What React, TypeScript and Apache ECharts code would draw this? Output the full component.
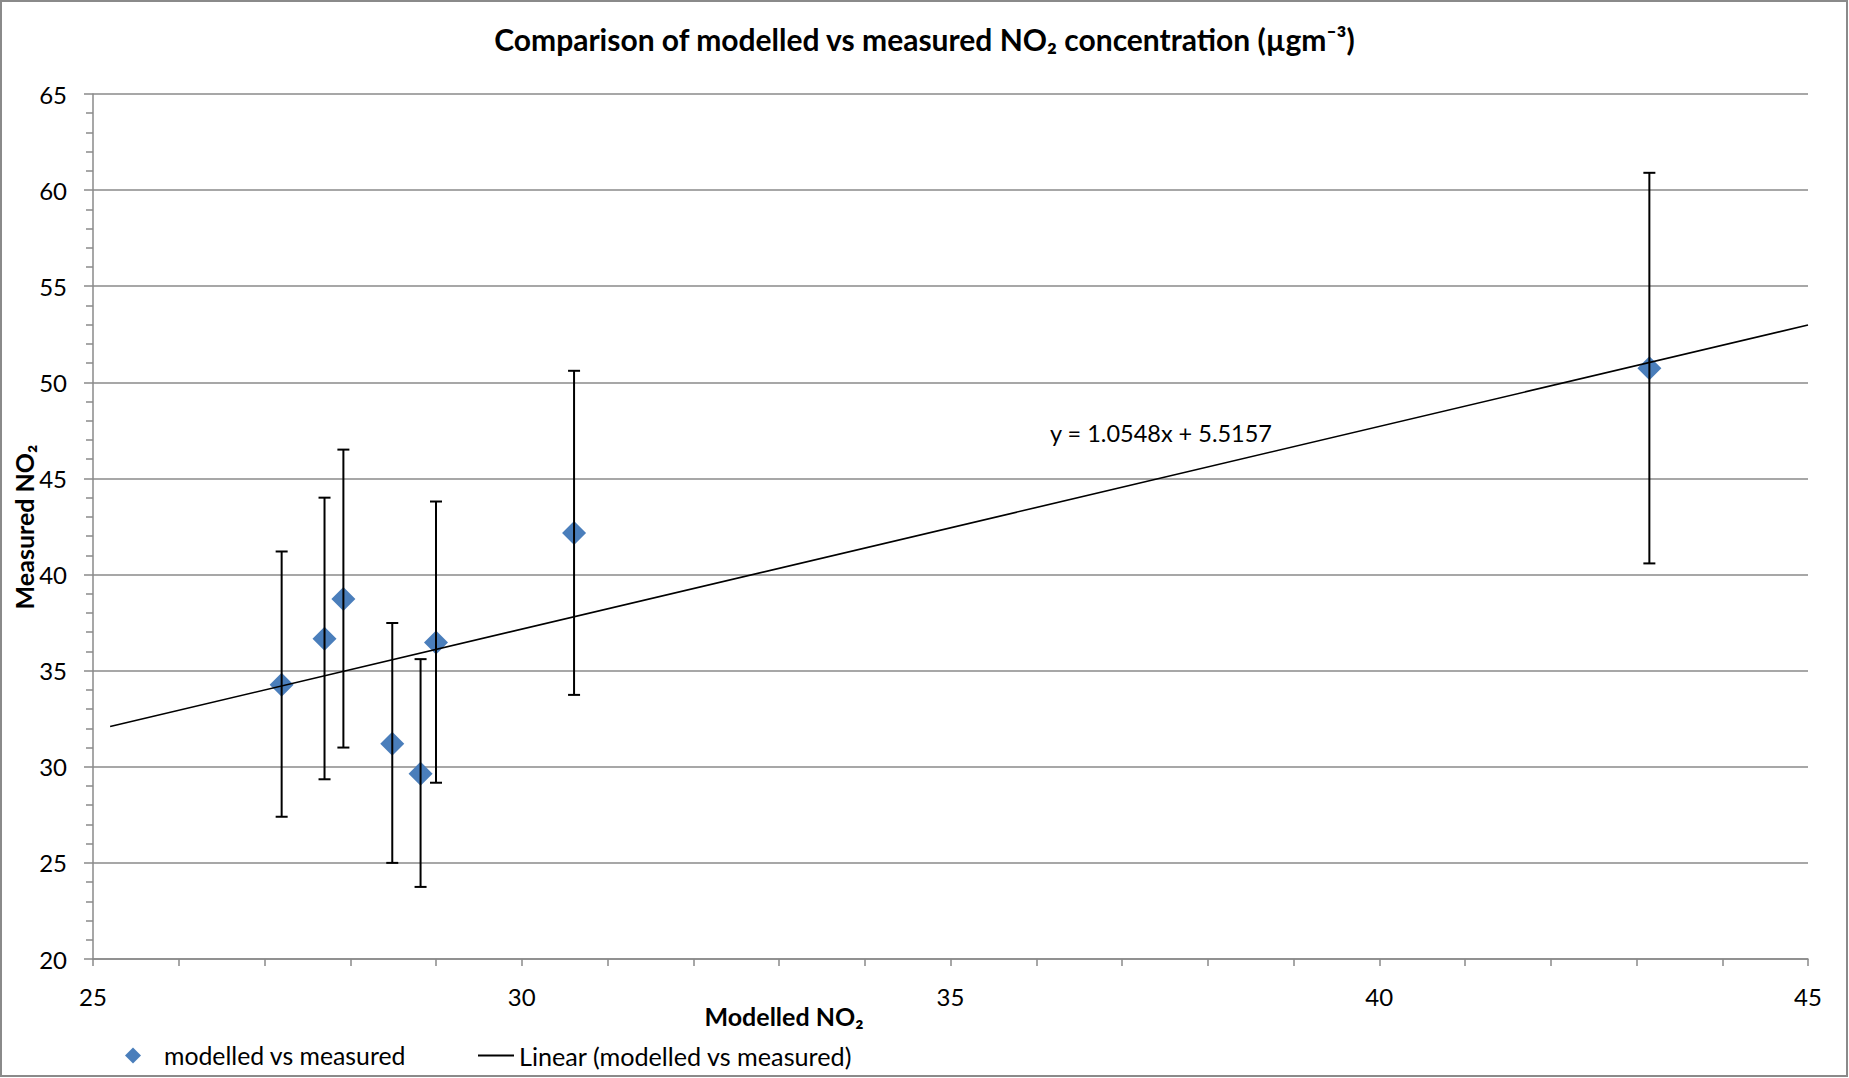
import React, { useEffect, useRef } from "react";
import * as echarts from "echarts";

// Values
const modelled = [27.2, 27.7, 27.92, 28.49, 28.82, 29.0, 30.61, 43.15];
const measured = [34.27, 36.66, 38.73, 31.2, 29.64, 36.46, 42.16, 50.73];
const errorHigh = [41.2, 44.0, 46.5, 37.48, 35.6, 43.8, 50.6, 60.9];
const errorLow = [27.4, 29.35, 31.0, 25.0, 23.75, 29.17, 33.74, 40.58];

// Linear trendline (as printed on the chart)
const trendSlope = 1.0548;
const trendIntercept = 5.5157;
const trendStartX = 25.2;
const trendEndX = 45;
const equationText = "y = 1.0548x + 5.5157";

// Axes
const xMin = 25;
const xMax = 45;
const xInterval = 5;
const yMin = 20;
const yMax = 65;
const yInterval = 5;

const titleText = "Comparison of modelled vs measured NO\u2082 concentration (\u00b5gm\u207b\u00b3)";
const xAxisTitle = "Modelled NO\u2082";
const yAxisTitle = "Measured NO\u2082";
const seriesName = "modelled vs measured";
const trendName = "Linear (modelled vs measured)";

const FONT = "Lato, 'Noto Sans', sans-serif";
const GRID_COLOR = "#8a8a8a";
const MARKER_COLOR = "#4a7ebb";

export default function App() {
  const ref = useRef<HTMLDivElement>(null);

  useEffect(() => {
    document.body.style.margin = "0";
    if (!ref.current) return;
    const chart = echarts.init(ref.current, undefined, { renderer: "svg" });

    const scatterData = modelled.map((x, i) => [x, measured[i]]);
    const errorData = modelled.map((x, i) => [x, errorLow[i], errorHigh[i]]);
    const trendData = [
      [trendStartX, trendSlope * trendStartX + trendIntercept],
      [trendEndX, trendSlope * trendEndX + trendIntercept],
    ];

    const option: any = {
      animation: false,
      backgroundColor: "#ffffff",
      title: {
        text: titleText,
        left: "center",
        top: 19,
        textStyle: {
          fontFamily: FONT,
          fontWeight: "bold",
          fontSize: 30,
          color: "#000",
        },
      },
      grid: {
        left: 93,
        right: 41,
        top: 94,
        bottom: 119,
        containLabel: false,
      },
      legend: [
        {
          data: [{ name: seriesName, icon: "diamond" }],
          left: 125,
          top: 1043,
          padding: 0,
          itemWidth: 16,
          itemHeight: 16,
          selectedMode: false,
          itemStyle: { color: MARKER_COLOR },
          textStyle: {
            fontFamily: FONT,
            fontSize: 24.8,
            color: "#000",
            padding: [0, 0, 0, 18],
          },
        },
        {
          data: [{ name: trendName, icon: "path://M0,0L36,0L36,2L0,2Z" }],
          left: 478,
          top: 1043,
          padding: 0,
          itemWidth: 36,
          itemHeight: 16,
          selectedMode: false,
          itemStyle: { color: "#000" },
          textStyle: {
            fontFamily: FONT,
            fontSize: 25.2,
            color: "#000",
          },
        },
      ],
      xAxis: {
        type: "value",
        min: xMin,
        max: xMax,
        interval: xInterval,
        axisLine: { show: true, lineStyle: { color: GRID_COLOR, width: 1.5 } },
        axisTick: { show: true, length: 7, lineStyle: { color: GRID_COLOR, width: 1.5 } },
        minorTick: { show: true, splitNumber: 5, length: 7, lineStyle: { color: GRID_COLOR, width: 1.5 } },
        splitLine: { show: false },
        axisLabel: {
          margin: 25,
          fontFamily: FONT,
          fontSize: 24,
          color: "#000",
        },
      },
      yAxis: {
        type: "value",
        min: yMin,
        max: yMax,
        interval: yInterval,
        axisLine: { show: true, lineStyle: { color: GRID_COLOR, width: 1.5 } },
        axisTick: { show: true, length: 9, lineStyle: { color: GRID_COLOR, width: 1.5 } },
        minorTick: { show: true, splitNumber: 5, length: 7, lineStyle: { color: GRID_COLOR, width: 1.5 } },
        splitLine: { show: true, lineStyle: { color: GRID_COLOR, width: 1.5 } },
        axisLabel: {
          margin: 26,
          fontFamily: FONT,
          fontSize: 24,
          color: "#000",
        },
      },
      series: [
        {
          name: seriesName,
          type: "scatter",
          data: scatterData,
          symbol: "diamond",
          symbolSize: 24,
          itemStyle: { color: MARKER_COLOR, opacity: 1 },
          z: 2,
        },
        {
          name: "error bars",
          type: "custom",
          data: errorData,
          z: 3,
          silent: true,
          renderItem: (_params: any, api: any) => {
            const x = api.value(0);
            const lo = api.value(1);
            const hi = api.value(2);
            const pHi = api.coord([x, hi]);
            const pLo = api.coord([x, lo]);
            const half = 6;
            const style = { stroke: "#000", lineWidth: 2 };
            return {
              type: "group",
              children: [
                { type: "line", shape: { x1: pHi[0], y1: pHi[1], x2: pLo[0], y2: pLo[1] }, style },
                { type: "line", shape: { x1: pHi[0] - half, y1: pHi[1], x2: pHi[0] + half, y2: pHi[1] }, style },
                { type: "line", shape: { x1: pLo[0] - half, y1: pLo[1], x2: pLo[0] + half, y2: pLo[1] }, style },
              ],
            };
          },
        },
        {
          name: trendName,
          type: "line",
          data: trendData,
          symbol: "none",
          color: "#000",
          lineStyle: { color: "#000", width: 1.6 },
          z: 4,
        },
      ],
      graphic: [
        {
          type: "rect",
          shape: { x: 1, y: 1, width: 1846, height: 1075 },
          style: { fill: "none", stroke: GRID_COLOR, lineWidth: 2 },
          silent: true,
          z: -1,
        },
        {
          type: "text",
          x: 784,
          y: 1016,
          style: {
            text: xAxisTitle,
            fontFamily: FONT,
            fontWeight: "bold",
            fontSize: 25,
            fill: "#000",
            textAlign: "center",
            textVerticalAlign: "middle",
          },
        },
        {
          type: "text",
          x: 24,
          y: 527,
          rotation: Math.PI / 2,
          style: {
            text: yAxisTitle,
            fontFamily: FONT,
            fontWeight: "bold",
            fontSize: 25,
            fill: "#000",
            textAlign: "center",
            textVerticalAlign: "middle",
          },
        },
        {
          type: "text",
          x: 1050,
          y: 433,
          style: {
            text: equationText,
            fontFamily: FONT,
            fontSize: 23.5,
            fill: "#000",
            textAlign: "left",
            textVerticalAlign: "middle",
          },
        },
      ],
    };

    chart.setOption(option);
    return () => {
      chart.dispose();
    };
  }, []);

  return (
    <div
      ref={ref}
      style={{ position: "fixed", left: 0, top: 0, width: 1849, height: 1078 }}
    />
  );
}
